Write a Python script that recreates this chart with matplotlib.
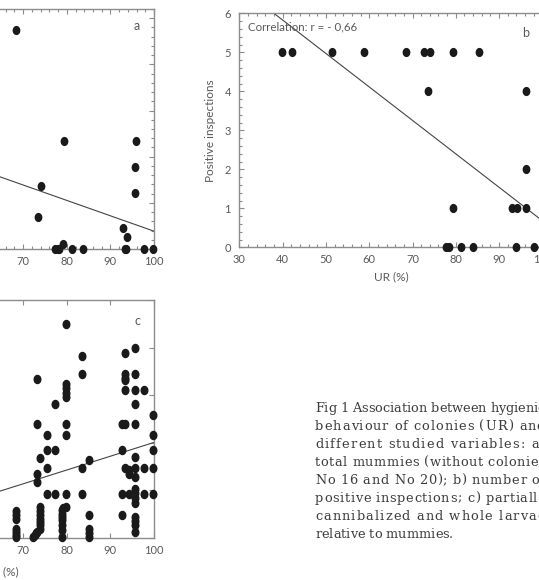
import matplotlib
matplotlib.use('Agg')
import matplotlib.pyplot as plt
from matplotlib.markers import MarkerStyle
from matplotlib.transforms import Affine2D
from matplotlib.ticker import MultipleLocator
from matplotlib.font_manager import FontProperties, findfont, get_font
import numpy as np

W, H, DPI = 539, 580, 100

# a) total mummies vs UR (%)
ur_a = [68.3, 79.3, 95.8, 95.6, 95.6, 74.1, 73.5, 92.8, 93.8, 79.1,
        77.4, 78.0, 78.3, 81.1, 83.8, 93.4, 93.6, 97.7, 99.8]
mummies_a = [23.7, 11.7, 11.7, 8.9, 6.1, 6.8, 3.5, 2.3, 1.3, 0.5,
             0, 0, 0, 0, 0, 0, 0, 0, 0]
trend_a = (18.6, -0.1667)  # intercept, slope

# b) positive inspections vs UR (%)
ur_b = [39.8, 42.1, 51.4, 58.7, 68.6, 72.7, 74.1, 79.4, 85.4,
        73.5, 96.1, 96.1, 79.3, 93.0, 94.1, 96.1,
        77.7, 78.4, 81.2, 84.0, 93.8, 98.1, 100]
positive_b = [5, 5, 5, 5, 5, 5, 5, 5, 5,
              4, 4, 2, 1, 1, 1, 1,
              0, 0, 0, 0, 0, 0, 0]
trend_b = (9.26, -0.0858)
corr_text = 'Correlation: r = - 0,66'

# c) partially cannibalized and whole larvae relative to mummies
larvae_c = {
    68.3: [0.56, 0.47, 0.39, 0.19, 0.13, 0.06, 0.02],
    72.3: [0.02], 72.6: [0.05], 72.9: [0.09],
    73.2: [3.34, 2.39, 1.35, 1.18, 0.13],
    73.85: [1.67, 0.65, 0.56, 0.47, 0.40, 0.33, 0.26, 0.19],
    75.4: [2.16, 1.84, 1.46, 0.91],
    77.2: [2.81, 1.84, 0.91],
    79.0: [0.58, 0.50, 0.44, 0.37, 0.26, 0.16, 0.02],
    79.2: [0.62],
    79.9: [4.50, 3.23, 3.14, 3.04, 2.95, 2.39, 2.16, 0.91, 0.65],
    83.6: [3.82, 3.44, 1.46, 0.91],
    85.0: [1.63, 0.47, 0.18, 0.09, 0.02],
    92.7: [2.39, 1.84, 0.91, 0.47],
    93.4: [3.88, 3.44, 3.36, 3.31, 3.10, 2.39, 1.46],
    94.3: [1.42, 1.35, 0.91],
    95.6: [3.98, 3.44, 3.10, 2.81, 2.39, 1.70, 1.46, 1.28, 1.02, 0.93,
           0.83, 0.74, 0.43, 0.36, 0.27, 0.13],
    97.6: [3.10, 1.46, 0.91],
    99.8: [2.59, 2.16, 1.84, 1.46, 0.91],
}
trend_c = (-0.896, 0.029)

caption_lines = [
    'Fig 1 Association between hygienic',
    'behaviour of colonies (UR) and',
    'different studied variables: a)',
    'total mummies (without colonies',
    'No 16 and No 20); b) number of',
    'positive inspections; c) partially',
    'cannibalized and whole larvae',
    'relative to mummies.',
]

GREY = '#8c8c8c'
TXT = '#595959'
plt.rcParams['font.family'] = ['Lato', 'DejaVu Sans']
dot = MarkerStyle('o', transform=Affine2D().scale(0.82, 1.0))


def px_axes(fig, left, top, right, bottom):
    return fig.add_axes([left / W, 1 - bottom / H, (right - left) / W, (bottom - top) / H])


def style(ax, minor=True, right=True):
    for s in ax.spines.values():
        s.set_color(GREY)
        s.set_linewidth(1.0)
    ax.tick_params(which='both', direction='in', top=True, right=right, color=GREY,
                   labelcolor=TXT, labelsize=8, pad=5)
    ax.tick_params(which='major', length=3.5, width=0.8)
    ax.tick_params(which='minor', length=2, width=0.8)
    ax.xaxis.set_major_locator(MultipleLocator(10))
    if minor:
        ax.xaxis.set_minor_locator(MultipleLocator(2))
    ax.set_xlim(30, 100)


def draw_trend(ax, coef):
    xs = np.array([30, 100])
    ax.plot(xs, coef[0] + coef[1] * xs, color='#444444', lw=0.8, zorder=2)


fig = plt.figure(figsize=(W / DPI, H / DPI), dpi=DPI)

# panel a
ax = px_axes(fig, -151.2, 9, 154, 249)
style(ax)
ax.set_ylim(0, 26)
ax.yaxis.set_major_locator(MultipleLocator(5))
ax.yaxis.set_minor_locator(MultipleLocator(1))
draw_trend(ax, trend_a)
ax.plot(ur_a, mummies_a, ls='none', marker=dot, ms=5.6, color='#1a1a1a', zorder=3, clip_on=False)
ax.text(0.955, 0.93, 'a', transform=ax.transAxes, color=TXT, fontsize=9, ha='right', va='center')

# panel b
ax = px_axes(fig, 239.3, 13.3, 542.4, 247.3)
style(ax, right=False)
ax.set_ylim(0, 6)
ax.yaxis.set_major_locator(MultipleLocator(1))
ax.yaxis.set_minor_locator(MultipleLocator(0.2))
ax.tick_params(axis='y', pad=6)
draw_trend(ax, trend_b)
ax.plot(ur_b, positive_b, ls='none', marker=dot, ms=5.6, color='#1a1a1a', zorder=3, clip_on=False)
ax.text(0.03, 0.94, corr_text, transform=ax.transAxes, color=TXT, fontsize=8.3, ha='left', va='center')
ax.text(0.955, 0.915, 'b', transform=ax.transAxes, color=TXT, fontsize=9, ha='right', va='center')
ax.set_xlabel('UR (%)', color=TXT, fontsize=8.5, labelpad=4)
ax.set_ylabel('Positive inspections', color=TXT, fontsize=8.5, labelpad=6)

# panel c
ax = px_axes(fig, -151.2, 300, 154, 537.7)
style(ax, minor=False)
ax.set_ylim(0, 5)
ax.yaxis.set_major_locator(MultipleLocator(1))
draw_trend(ax, trend_c)
for x, ys in larvae_c.items():
    ax.plot([x] * len(ys), ys, ls='none', marker=dot, ms=5.8, color='#1a1a1a', zorder=3, clip_on=False)
ax.text(0.955, 0.91, 'c', transform=ax.transAxes, color=TXT, fontsize=9, ha='right', va='center')
ax.set_xlabel('UR (%)', color=TXT, fontsize=8.5, labelpad=8)

# caption, letter-spaced to a justified width
cap_prop = FontProperties(family='DejaVu Serif', size=9.3)
font = get_font(findfont(cap_prop))
font.set_size(cap_prop.get_size_in_points(), DPI)
x0, x1, y0, dy = 315, 545, 408.5, 17.95
for i, line in enumerate(caption_lines):
    adv = [font.load_char(ord(c)).linearHoriAdvance / 65536 for c in line]
    natural = sum(adv)
    extra = 0 if i == len(caption_lines) - 1 else (x1 - x0 - natural) / (len(line) - 1)
    x = x0
    for c, a in zip(line, adv):
        if c != ' ':
            fig.text(x / W, 1 - (y0 + i * dy) / H, c, fontproperties=cap_prop,
                     color='#3c3c3c', ha='left', va='center')
        x += a + extra

fig.savefig('out.png', dpi=DPI)
